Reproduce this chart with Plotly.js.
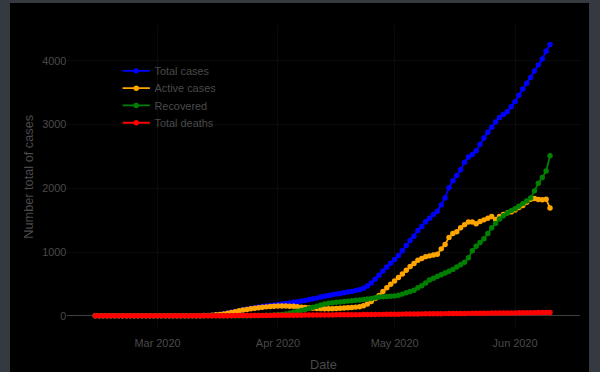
<!DOCTYPE html>
<html>
<head>
<meta charset="utf-8">
<script src="https://cdn.plot.ly/plotly-3.0.1.min.js"></script>
<style>
  html, body { margin: 0; padding: 0; background: #343a40; width: 600px; height: 372px; overflow: hidden; }
  #frame { position: absolute; left: 10px; top: 3px; width: 579px; height: 369px; background: #000; overflow: hidden; }
  #chart { position: absolute; left: 0; top: 0; width: 636px; height: 406px; transform: scale(0.91); transform-origin: 0 0; }
</style>
</head>
<body>
<div id="frame"><div id="chart"></div></div>
<script>
const startDate = '2020-02-14';
const seriesNames = ['Total cases', 'Active cases', 'Recovered', 'Total deaths'];
const seriesColors = ['blue', 'orange', 'green', 'red'];

const totalCases = [0,0,0,0,0,0,0,0,0,0,0,0,0,0,0,0,0,0,0,0,0,0,0,0,0,0,
  1,2,4,6, 10,16,23,31,42,54,68, 81,93,105,116,126,137,146,154,161,170,
  176,185,193,199,212,222,231,241,256,267, 277,295,308,319,331,342,351,363,373,383,
  396,408,432,467,515,573,637,702,766,824, 882,947,1021,1102,1182,1248,1339,1400,1474,1531,
  1590,1640,1740,1850,2010,2120,2200,2290,2410,2490,
  2530,2590,2690,2790,2880,2960,3040,3110,3160,3200,3280,
  3360,3460,3560,3650,3740,3840,3937,4030,4150,4256];

const activeCases = [0,0,0,0,0,0,0,0,0,0,0,0,0,0,0,0,0,0,0,0,0,0,0,0,0,0,
  1,2,4,6, 10,15,22,30,40,52,65, 78,90,100,110,118,126,133,140,145,150,
  152,155,155,150,148,142,136,130,125,120, 115,112,110,110,112,115,118,122,126,130,
  136,142,158,185,225,270,320,380,440,495, 545,600,655,715,773,820,870,900,928,940,
  955,965,1050,1120,1230,1290,1320,1380,1430,1470,
  1470,1445,1480,1505,1530,1558,1510,1560,1590,1615,1630,
  1660,1700,1730,1780,1830,1840,1825,1820,1830,1690];

const recovered = [0,0,0,0,0,0,0,0,0,0,0,0,0,0,0,0,0,0,0,0,0,0,0,0,0,0,0,0,0,0,0,0,0,0,0,0,0,0,0,
  1,2,3,4,6,8,10,13,
  17,22,30,40,55,70,85,100,120,135, 150,170,185,195,205,212,218,225,230,236,
  242,248,255,262,270,282,295,300,303,305, 312,322,340,360,381,400,440,470,515,560,
  590,615,645,672,700,728,765,800,840,910,
  1020,1090,1150,1210,1290,1380,1450,1520,1570,1610,1650,
  1680,1720,1760,1800,1850,1960,2080,2170,2270,2510];

const totalDeaths = [0,0,0,0,0,0,0,0,0,0,0,0,0,0,0,0,0,0,0,0,0,0,0,0,0,0,0,0,0,0,
  0,1,1,1,2,2,3, 3,3,4,4,5,5,5,6,6,7,
  7,8,8,9,9,10,10,11,11,12, 12,13,13,14,14,15,15,16,17,17,
  18,18,19,20,20,21,22,22,23,24, 25,25,26,27,28,28,29,30,31,31,
  32,33,33,34,35,35,36,37,37,38,
  39,39,40,40,41,42,42,43,43,44,45,
  45,46,47,47,48,49,50,50,51,52];

// consecutive daily dates
const dates = [];
(function () {
  const d0 = new Date(startDate + 'T00:00:00Z');
  for (let k = 0; k < totalCases.length; k++) {
    const d = new Date(d0.getTime() + k * 86400000);
    dates.push(d.toISOString().slice(0, 10));
  }
})();

const allSeries = [totalCases, activeCases, recovered, totalDeaths];
const traces = allSeries.map((ys, idx) => ({
  x: dates,
  y: ys,
  type: 'scatter',
  mode: 'lines+markers',
  name: seriesNames[idx],
  line: { color: seriesColors[idx], width: 2 },
  marker: { color: seriesColors[idx], size: 6 }
}));

const txt = '#4a4a4a';
const fam = 'Arial, "Liberation Sans", sans-serif';
const layout = {
  width: 636,
  height: 406,
  paper_bgcolor: '#000',
  plot_bgcolor: '#000',
  margin: { l: 63, r: 10, t: 24, b: 48 },
  font: { family: fam, color: txt, size: 12 },
  showlegend: true,
  legend: {
    x: 0.099, y: 0.892, xanchor: 'left', yanchor: 'top',
    bgcolor: 'rgba(0,0,0,0)',
    font: { family: fam, color: txt, size: 12 }
  },
  xaxis: {
    type: 'date',
    title: { text: 'Date', font: { family: fam, color: txt, size: 14 }, standoff: 12 },
    range: ['2020-02-06 19:00', '2020-06-17 15:00'],
    dtick: 'M1',
    tick0: '2020-03-01',
    tickformat: '%b %Y',
    ticklabelstandoff: 7,
    gridcolor: '#0c0c0c',
    showline: false,
    zeroline: false,
    tickfont: { family: fam, color: txt, size: 12 }
  },
  yaxis: {
    title: { text: 'Number total of cases', font: { family: fam, color: txt, size: 14 } },
    range: [-204, 4565],
    dtick: 1000,
    gridcolor: '#0c0c0c',
    zeroline: true,
    zerolinecolor: '#444',
    zerolinewidth: 1,
    tickfont: { family: fam, color: txt, size: 12 }
  }
};

Plotly.newPlot('chart', traces, layout, { displayModeBar: false, staticPlot: true });
</script>
</body>
</html>
